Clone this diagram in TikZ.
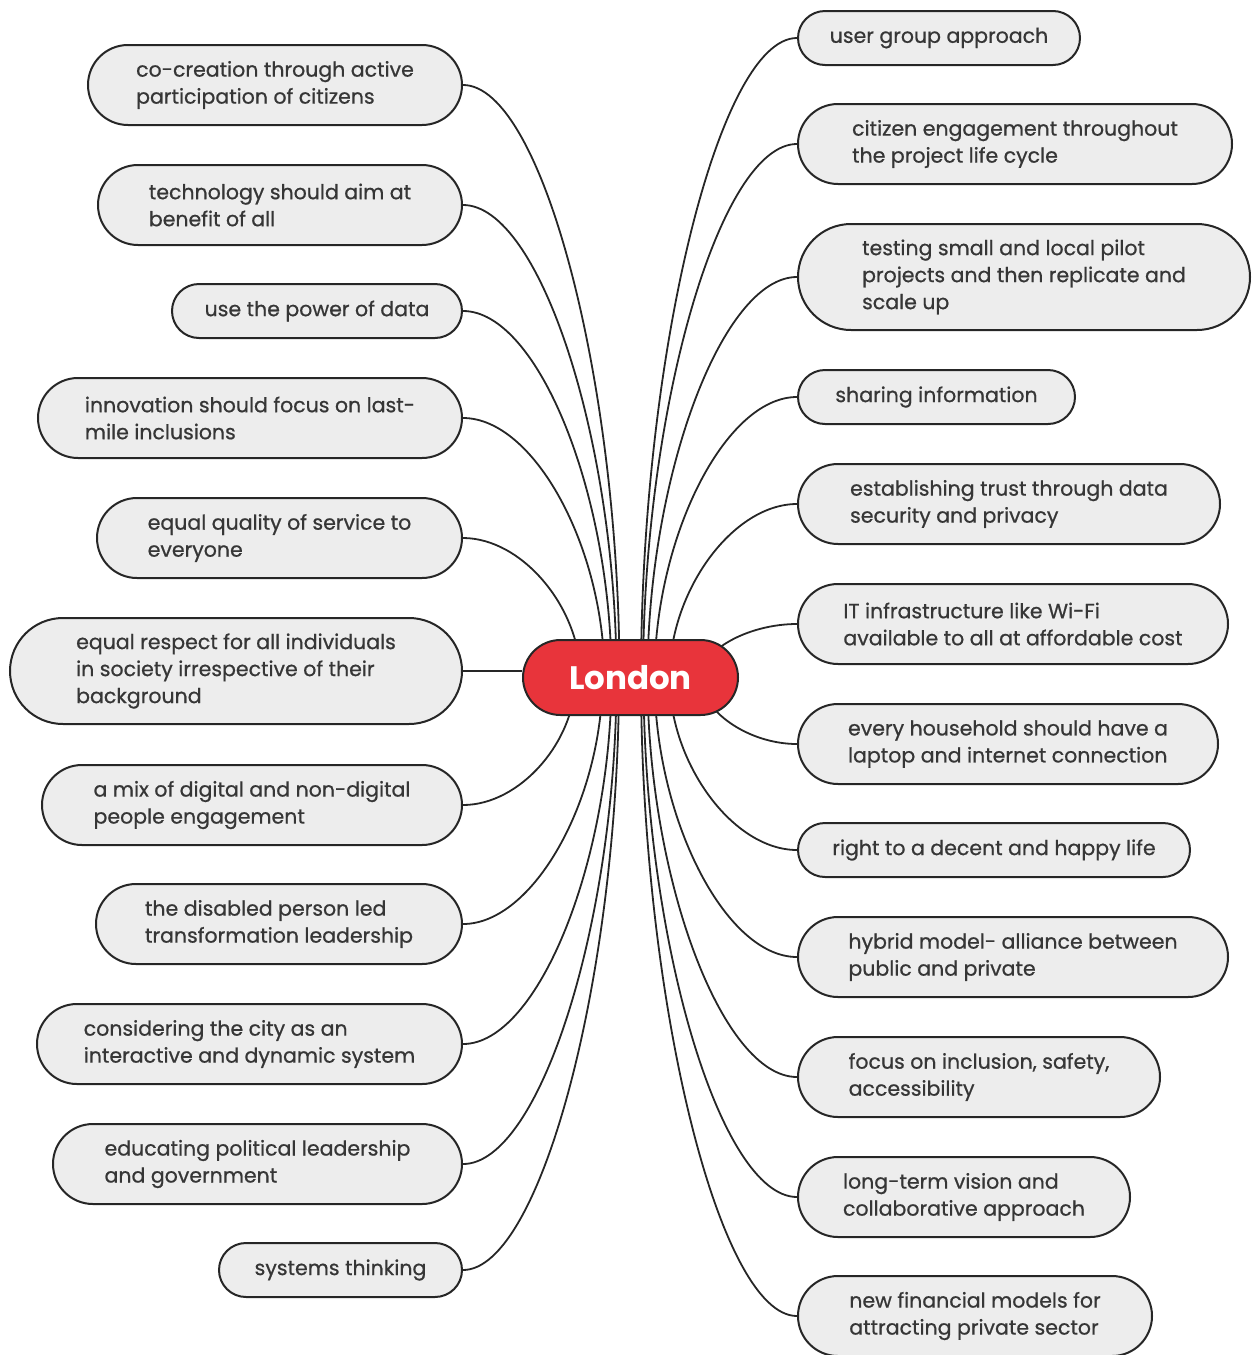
\documentclass[tikz,border=0pt]{standalone}
\usepackage{fontspec}
\setmainfont{Poppins}[UprightFeatures={FakeBold=0.7}]
\usetikzlibrary{backgrounds}

\definecolor{leaffill}{HTML}{EDEDED}
\definecolor{edgeink}{HTML}{262626}
\definecolor{textink}{HTML}{363636}
\definecolor{hubred}{HTML}{E8343B}

\tikzset{
  leaf/.style={draw=edgeink, line width=2pt, fill=leaffill, text=textink,
    align=left, inner sep=0pt, font=\fontsize{20.5}{27}\selectfont},
  oneline/.style={minimum height=54pt, rounded corners=27pt},
  twoline/.style={minimum height=80pt, rounded corners=40pt},
  threeline/.style={minimum height=106pt, rounded corners=53pt},
  hub/.style={draw=edgeink, line width=2pt, fill=hubred, text=white,
    minimum width=215pt, minimum height=75pt, rounded corners=37.5pt,
    inner sep=0pt, font=\bfseries\fontsize{32.5}{38}\selectfont},
  link/.style={draw=edgeink, line width=1.8pt},
}

% branch from the hub (start shifted sideways) to a leaf:
% #1 leaf name, #2 side shift of the start, #3 vertical pull, #4 horizontal pull
\newcommand{\linkto}[4]{%
  \draw[link] ([xshift=#2pt]hub.center) .. controls +(0,#3) and +(#4,0) .. (#1);}

\begin{document}
\begin{tikzpicture}[x=1pt, y=-1pt]
\useasboundingbox (0,0) rectangle (1255,1355);

% central topic
\node[hub] (hub) at (630.5,677.5) {London};

% left-hand topics
\node[leaf, twoline, minimum width=374pt] (l1) at (275,85) {co-creation through active\\participation of citizens};
\node[leaf, twoline, minimum width=364pt] (l2) at (280,205) {technology should aim at\\benefit of all};
\node[leaf, oneline, minimum width=290pt] (l3) at (317,311) {use the power of data};
\node[leaf, twoline, minimum width=424pt] (l4) at (250,418) {innovation should focus on last-\\mile inclusions};
\node[leaf, twoline, minimum width=365pt] (l5) at (279.5,538) {equal quality of service to\\everyone};
\node[leaf, threeline, minimum width=452pt] (l6) at (236,671) {equal respect for all individuals\\in society irrespective of their\\background};
\node[leaf, twoline, minimum width=420pt] (l7) at (252,805) {a mix of digital and non-digital\\people engagement};
\node[leaf, twoline, minimum width=366pt] (l8) at (279,924) {the disabled person led\\transformation leadership};
\node[leaf, twoline, minimum width=425pt] (l9) at (249.5,1044) {considering the city as an\\interactive and dynamic system};
\node[leaf, twoline, minimum width=409pt] (l10) at (257.5,1164) {educating political leadership\\and government};
\node[leaf, oneline, minimum width=243pt] (l11) at (340.5,1270) {systems thinking};

% right-hand topics
\node[leaf, oneline, minimum width=282pt] (r1) at (939,38) {user group approach};
\node[leaf, twoline, minimum width=434pt] (r2) at (1015,144) {citizen engagement throughout\\the project life cycle};
\node[leaf, threeline, minimum width=452pt] (r3) at (1024,277) {testing small and local pilot\\projects and then replicate and\\scale up};
\node[leaf, oneline, minimum width=277pt] (r4) at (936.5,397) {sharing information};
\node[leaf, twoline, minimum width=422pt] (r5) at (1009,504) {establishing trust through data\\security and privacy};
\node[leaf, twoline, minimum width=430pt] (r6) at (1013,624) {IT infrastructure like Wi-Fi\\available to all at affordable cost};
\node[leaf, twoline, minimum width=420pt] (r7) at (1008,744) {every household should have a\\laptop and internet connection};
\node[leaf, oneline, minimum width=392pt] (r8) at (994,850) {right to a decent and happy life};
\node[leaf, twoline, minimum width=430pt] (r9) at (1013,957) {hybrid model- alliance between\\public and private};
\node[leaf, twoline, minimum width=362pt] (r10) at (979,1077) {focus on inclusion, safety,\\accessibility};
\node[leaf, twoline, minimum width=332pt] (r11) at (964,1197) {long-term vision and\\collaborative approach};
\node[leaf, twoline, minimum width=354pt] (r12) at (975,1316) {new financial models for\\attracting private sector};

% branches, kept behind the boxes
\begin{scope}[on background layer]
  \linkto{l1.east}{-11}{-296}{79}
  \linkto{l2.east}{-14}{-236}{77}
  \linkto{l3.east}{-19}{-183}{75}
  \linkto{l4.east}{-26}{-130}{71}
  \linkto{l5.east}{-50}{-70}{59}
  \draw[link] (l6.east) -- (l6.east -| hub.west);
  \linkto{l7.east}{-55}{64}{57}
  \linkto{l8.east}{-28}{123}{70}
  \linkto{l9.east}{-19}{183}{75}
  \linkto{l10.east}{-14}{243}{77}
  \linkto{l11.east}{-11.5}{296}{78}

  \linkto{r1.west}{10.5}{-320}{-78.5}
  \linkto{r2.west}{12.5}{-267}{-77.5}
  \linkto{r3.west}{17}{-200}{-75}
  \linkto{r4.west}{24}{-140}{-72}
  \linkto{r5.west}{39}{-87}{-64}
  \linkto{r6.west}{70}{-27}{-49}
  \linkto{r7.west}{70}{33}{-49}
  \linkto{r8.west}{39}{86}{-64}
  \linkto{r9.west}{24}{140}{-72}
  \linkto{r10.west}{17}{200}{-75}
  \linkto{r11.west}{13}{260}{-77}
  \linkto{r12.west}{10.5}{319}{-78.5}
\end{scope}
\end{tikzpicture}
\end{document}
